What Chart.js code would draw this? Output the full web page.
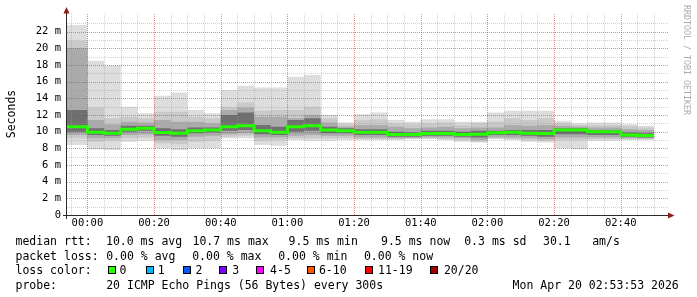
<!DOCTYPE html>
<html><head><meta charset="utf-8">
<script src="https://cdn.jsdelivr.net/npm/chart.js@4/dist/chart.umd.min.js"></script>
<style>html,body{margin:0;padding:0;background:#fff;}canvas{display:block;}</style>
</head><body>
<canvas id="c" width="697" height="297" style="width:697px;height:297px"></canvas>
<script>
// ---- data (minutes after 00:00, bin end times; values in ms) ----
const binEnd = [-5,0,5,10,15,20,25,30,35,40,45,50,55,60,65,70,75,80,85,90,95,100,105,110,115,120,125,130,135,140,145,150,155,160,165,170];
const rttMax = [22.8,22.8,18.5,17.95,13.0,12.2,14.3,14.7,12.6,12.2,15.0,15.5,15.3,15.3,16.6,16.8,12.0,11.1,12.1,12.3,11.4,11.2,11.5,11.5,11.2,11.2,12.3,12.5,12.5,12.5,11.3,11.0,11.1,11.1,10.9,10.7];
const hi3    = [20.9,20.9,12.9,11.6,11.8,11.6,12.4,12.4,11.8,11.6,13.0,13.5,12.5,12.6,12.6,13.0,11.6,10.9,11.4,11.5,11.0,10.9,11.0,11.1,10.8,11.0,11.2,11.6,11.4,11.6,11.0,10.8,10.8,10.8,10.7,10.5];
const hi2    = [20.0,20.0,11.4,10.9,11.2,11.1,11.4,11.2,11.2,11.0,12.6,12.9,11.8,11.8,11.6,12.0,11.1,10.6,10.8,10.8,10.6,10.4,10.5,10.6,10.4,10.5,10.5,10.8,10.7,10.8,10.7,10.6,10.5,10.5,10.3,10.2];
const hi1    = [12.6,12.6,10.4,10.2,10.7,10.7,10.4,10.3,10.5,10.5,12.0,12.3,10.8,10.6,11.4,11.6,10.6,10.4,10.3,10.3,10.0,9.9,10.1,10.1,10.0,10.1,10.1,10.2,10.2,10.2,10.4,10.4,10.2,10.2,9.9,9.8];
const median = [10.6,10.6,9.94,9.8,10.3,10.4,9.9,9.8,10.1,10.2,10.6,10.7,10.1,9.94,10.6,10.7,10.2,10.1,9.94,9.94,9.65,9.65,9.78,9.78,9.65,9.7,9.86,9.94,9.8,9.78,10.2,10.2,10.0,10.0,9.6,9.54];
const lo1    = [10.0,10.0,9.6,9.5,10.0,10.1,9.5,9.4,9.8,9.9,10.1,10.2,9.7,9.6,10.0,10.1,9.8,9.8,9.6,9.6,9.4,9.4,9.5,9.5,9.4,9.3,9.6,9.6,9.5,9.4,9.7,9.7,9.6,9.6,9.4,9.3];
const lo2    = [9.6,9.6,9.2,9.2,9.6,9.7,9.0,9.0,9.4,9.5,9.7,9.8,9.3,9.3,9.5,9.6,9.5,9.5,9.3,9.3,9.2,9.25,9.3,9.3,9.2,9.0,9.3,9.3,9.2,9.1,9.3,9.3,9.3,9.3,9.2,9.2];
const lo3    = [9.2,9.2,8.8,8.9,9.2,9.3,8.6,8.5,8.8,8.9,9.4,9.5,8.9,9.0,9.2,9.2,9.2,9.2,9.1,9.1,9.1,9.15,9.2,9.1,9.0,8.8,9.2,9.1,9.0,8.9,9.0,9.0,9.1,9.1,9.1,9.1];
const rttMin = [8.4,8.4,7.9,7.8,8.8,8.9,8.0,7.8,8.0,8.0,9.2,9.2,8.4,8.3,9.0,8.9,8.9,9.0,9.0,9.0,9.0,9.1,9.1,9.0,8.8,8.7,9.1,9.0,8.8,8.7,8.0,7.9,8.9,8.9,9.0,9.0];

const xTickValues = [0,20,40,60,80,100,120,140,160];
const xTickLabels = ['00:00','00:20','00:40','01:00','01:20','01:40','02:00','02:20','02:40'];
const yTickValues = [0,2,4,6,8,10,12,14,16,18,20,22];
const yTickLabels = ['0','2 m','4 m','6 m','8 m','10 m','12 m','14 m','16 m','18 m','20 m','22 m'];
const yTitle = 'Seconds';
const watermark = 'RRDTOOL / TOBI OETIKER';

const statsRtt  = ['median rtt:','10.0 ms avg','10.7 ms max','9.5 ms min','9.5 ms now','0.3 ms sd','30.1','am/s'];
const statsLoss = ['packet loss:','0.00 % avg','0.00 % max','0.00 % min','0.00 % now'];
const lossTitle = 'loss color:';
const lossLabels = ['0','1','2','3','4-5','6-10','11-19','20/20'];
const lossColors = ['#26ff00','#00b8ff','#0059ff','#7e00ff','#ff00ff','#ff5500','#ff0000','#a10000'];
const probeLine = ['probe:','20 ICMP Echo Pings (56 Bytes) every 300s','Mon Apr 20 02:53:53 2026'];

// ---- styling / layout ----
const SMOKE = ['#dddddd','#c9c9c9','#ababab','#707070'];
const MONO = '"DejaVu Sans Mono", monospace';
const MINOR = 'rgba(150,150,150,0.45)';
const MAJOR = 'rgba(220,40,40,0.55)';

function pts(arr){
  const p = [{x: binEnd[0] - 5, y: arr[0]}];
  binEnd.forEach((t,i) => p.push({x: t, y: arr[i]}));
  return p;
}
function band(arr, fillTo, color, order){
  return {data: pts(arr), stepped: 'after', pointRadius: 0, borderWidth: 0,
    borderColor: 'rgba(0,0,0,0)', backgroundColor: color || 'rgba(0,0,0,0)',
    fill: fillTo === undefined ? false : fillTo, order: order, clip: 0};
}
const datasets = [
  band(rttMax, 1, SMOKE[0], 4), band(rttMin, undefined, null, 4),
  band(hi3, 3, SMOKE[1], 3), band(lo3, undefined, null, 3),
  band(hi2, 5, SMOKE[2], 2), band(lo2, undefined, null, 2),
  band(hi1, 7, SMOKE[3], 1), band(lo1, undefined, null, 1),
  {data: pts(median), stepped: 'after', pointRadius: 0, borderWidth: 3,
   borderColor: lossColors[0], fill: false, order: 0, clip: 0}
];
const MEDIAN_INDEX = 8;

function drawGrid(chart){
  const {ctx, chartArea: a, scales: {x, y}} = chart;
  ctx.save();
  ctx.lineWidth = 1;
  ctx.setLineDash([1,1]);
  for (let m = Math.ceil(x.min/5)*5; m < x.max; m += 5) {
    const px = Math.round(x.getPixelForValue(m)) + 0.5;
    ctx.strokeStyle = (m % 20 === 0) ? MAJOR : MINOR;
    ctx.beginPath(); ctx.moveTo(px, a.bottom); ctx.lineTo(px, a.top - 2); ctx.stroke();
  }
  for (let v = 1; v < y.max; v += 1) {
    const py = Math.round(y.getPixelForValue(v)) + 0.5;
    ctx.strokeStyle = (v % 2 === 0) ? MAJOR : MINOR;
    ctx.beginPath(); ctx.moveTo(a.left, py); ctx.lineTo(a.right + 1, py); ctx.stroke();
  }
  ctx.restore();
}

function drawFrame(chart){
  const {ctx, chartArea: a, scales: {y}} = chart;
  const y0 = Math.round(y.getPixelForValue(0));
  ctx.save();
  ctx.fillStyle = '#2a2a2a';
  ctx.fillRect(a.left - 4, y0, a.right - a.left + 6, 1);
  ctx.fillRect(a.left - 1, a.top - 3, 1, y0 - a.top + 7);
  ctx.fillStyle = '#8e1c1c';
  ctx.beginPath(); ctx.moveTo(a.right + 1, y0 - 2.5); ctx.lineTo(a.right + 7.5, y0 + 0.5); ctx.lineTo(a.right + 1, y0 + 3.5); ctx.closePath(); ctx.fill();
  ctx.beginPath(); ctx.moveTo(a.left - 3.5, a.top - 1.5); ctx.lineTo(a.left + 2.5, a.top - 1.5); ctx.lineTo(a.left - 0.5, a.top - 8); ctx.closePath(); ctx.fill();

  // y title
  ctx.fillStyle = '#000';
  ctx.font = '11.5px ' + MONO;
  ctx.textAlign = 'center'; ctx.textBaseline = 'alphabetic';
  ctx.save(); ctx.translate(15, 114); ctx.rotate(-Math.PI/2); ctx.fillText(yTitle, 0, 0); ctx.restore();

  // watermark
  ctx.save(); ctx.fillStyle = '#ababab'; ctx.font = '8.3px ' + MONO;
  ctx.translate(684, 60); ctx.rotate(Math.PI/2); ctx.fillText(watermark, 0, 0); ctx.restore();

  // legend
  ctx.textAlign = 'left';
  const rttX = [15.5, 106, 192.5, 288.6, 381, 464.2, 543, 592.2];
  statsRtt.forEach((t,i) => ctx.fillText(t, rttX[i], 245));
  const lossX = [15.5, 106.2, 192.2, 278.2, 363.9];
  statsLoss.forEach((t,i) => ctx.fillText(t, lossX[i], 259.5));
  ctx.fillText(lossTitle, 15.5, 273.5);
  const boxX = [108, 145.5, 182.5, 219, 256, 306.5, 365, 430];
  const labX = [119.6, 157.7, 195.6, 232.3, 270.1, 318.9, 378, 443.9];
  lossLabels.forEach((t,i) => {
    const bx = Math.round(boxX[i]);
    ctx.fillStyle = lossColors[i]; ctx.fillRect(bx, 266, 8, 8);
    ctx.strokeStyle = '#000'; ctx.lineWidth = 1; ctx.strokeRect(bx + 0.5, 266.5, 7, 7);
    ctx.fillStyle = '#000'; ctx.fillText(t, labX[i], 273.5);
  });
  ctx.fillText(probeLine[0], 15.5, 288.5);
  ctx.fillText(probeLine[1], 106.2, 288.5);
  ctx.fillText(probeLine[2], 512.6, 288.5);
  ctx.restore();
}

const smokePlugin = {
  id: 'smoke',
  beforeDatasetDraw(chart, args){ if (args.index === MEDIAN_INDEX) drawGrid(chart); },
  afterDraw(chart){ drawFrame(chart); }
};

new Chart(document.getElementById('c'), {
  type: 'line',
  data: {datasets},
  plugins: [smokePlugin],
  options: {
    responsive: false, animation: false, devicePixelRatio: 1, events: [],
    layout: {padding: {top: 15, right: 30, left: 0, bottom: 0}},
    plugins: {legend: {display: false}, tooltip: {enabled: false}, title: {display: false}},
    scales: {
      x: {type: 'linear', min: -6.12, max: 173.88,
          grid: {display: false, drawTicks: false}, border: {display: false},
          afterBuildTicks: s => { s.ticks = xTickValues.map(v => ({value: v})); },
          afterFit: s => { s.height = 82; },
          ticks: {autoSkip: false, maxRotation: 0, minRotation: 0, padding: 2, color: '#000',
                  font: {family: MONO, size: 10.5},
                  callback: (v) => xTickLabels[xTickValues.indexOf(v)]}},
      y: {type: 'linear', min: 0, max: 24,
          grid: {display: false, drawTicks: false}, border: {display: false},
          afterBuildTicks: s => { s.ticks = yTickValues.map(v => ({value: v})); },
          afterFit: s => { s.width = 67; },
          ticks: {autoSkip: false, padding: 6, color: '#000',
                  font: {family: MONO, size: 10.5},
                  callback: (v) => yTickLabels[yTickValues.indexOf(v)]}}
    }
  }
});
</script>
</body></html>
